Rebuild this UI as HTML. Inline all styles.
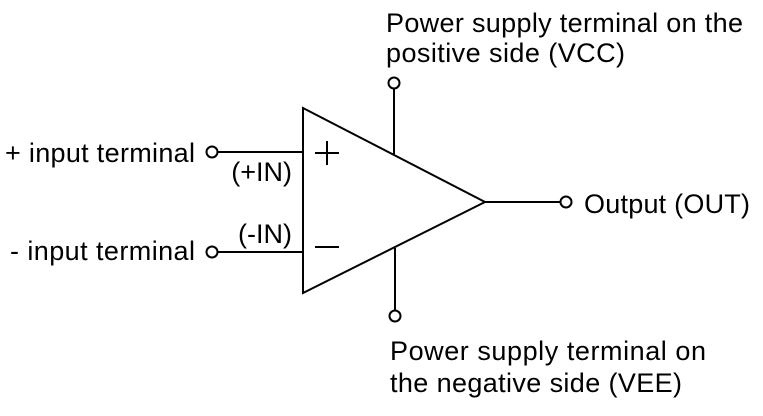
<!DOCTYPE html>
<html><head><style>html,body{margin:0;padding:0;background:#fff}svg{display:block}text{font-family:"Liberation Sans",Arial,sans-serif;font-size:27px;fill:#000}</style></head>
<body>
<svg width="763" height="416" viewBox="0 0 763 416">
<g stroke="#000" stroke-width="2" fill="none">
<polygon points="303,108 303,293 485,202" fill="#fff"/>
<line x1="218" y1="152" x2="303" y2="152"/>
<line x1="218" y1="252" x2="303" y2="252"/>
<circle cx="212" cy="152" r="5.5"/>
<circle cx="212" cy="252" r="5.5"/>
<line x1="394" y1="89" x2="394" y2="154"/>
<circle cx="394" cy="83" r="5.5"/>
<line x1="395" y1="248" x2="395" y2="310"/>
<circle cx="395" cy="316" r="5.5"/>
<line x1="485" y1="202" x2="560" y2="202"/>
<circle cx="566" cy="202" r="5.5"/>
<line x1="315" y1="153" x2="339" y2="153"/>
<line x1="327" y1="141" x2="327" y2="165"/>
<line x1="315" y1="247" x2="339" y2="247"/>
</g>
<text x="195" y="162" text-anchor="end" textLength="190">+ input terminal</text>
<text x="195" y="260" text-anchor="end" textLength="185">- input terminal</text>
<text x="292" y="181" text-anchor="end">(+IN)</text>
<text x="292" y="243" text-anchor="end">(-IN)</text>
<text x="584" y="213" textLength="166">Output (OUT)</text>
<text x="386" y="32" textLength="357">Power supply terminal on the</text>
<text x="386" y="62" textLength="239">positive side (VCC)</text>
<text x="390" y="360" textLength="316">Power supply terminal on</text>
<text x="390" y="392" textLength="292">the negative side (VEE)</text>
</svg>
</body></html>
